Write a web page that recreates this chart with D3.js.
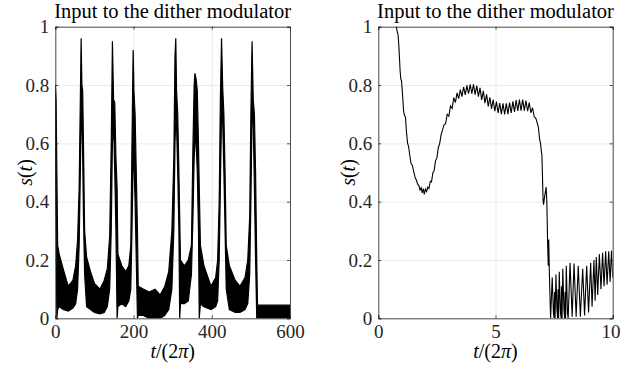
<!DOCTYPE html>
<html>
<head>
<meta charset="utf-8">
<script src="https://cdn.jsdelivr.net/npm/d3@7"></script>
<style>
body { margin: 0; background: #fff; }
svg text { font-family: "Liberation Serif", "DejaVu Serif", serif !important; }
.axis path, .axis line { stroke: #262626; stroke-width: 0.8; }
.axis text { font-size: 19px; fill: #262626; }
.grid line { stroke: #e4e4e4; stroke-width: 0.8; }
.grid path { display: none; }
</style>
</head>
<body>
<svg id="chart" width="621" height="373"></svg>
<script>
// left panel: dense signal drawn as its envelope (low / high) over t/(2pi)
var leftT  = [0, 2, 4, 6, 10, 20, 33, 45, 52, 57, 61, 64, 66, 68, 70, 72, 75, 80, 90, 100, 114, 125, 133, 139, 143, 146, 149, 152, 155, 158,
              160, 170, 180, 188, 193, 196, 199, 201, 204, 207, 210, 212, 225, 240, 255, 268, 280, 290, 298, 303, 306, 308, 310, 313, 316, 318,
              320, 330, 340, 348, 352, 355, 357, 360, 363, 366, 368, 371, 380, 398, 410, 415, 419, 422, 425, 428, 431, 434, 437, 445, 460, 472,
              485, 492, 497, 500, 503, 506, 509, 512, 515, 517, 600];
var leftLo = [0.55, 0.3, 0, 0.03, 0.04, 0.03, 0.025, 0.035, 0.05, 0.1, 0.25, 0.5, 0.7, 0.68, 0.55, 0.35, 0.15, 0.04, 0.03, 0.02, 0.015, 0.02, 0.04, 0.1, 0.3, 0.6, 0.67, 0.5, 0.3, 0,
              0.04, 0.05, 0.04, 0.06, 0.1, 0.3, 0.55, 0.54, 0.4, 0.2, 0, 0.01, 0.01, 0, 0, 0, 0.01, 0.03, 0.1, 0.3, 0.6, 0.68, 0.66, 0.5, 0.3, 0,
              0.05, 0.05, 0.06, 0.15, 0.35, 0.55, 0.6, 0.6, 0.5, 0.3, 0, 0.05, 0.04, 0.03, 0.04, 0.06, 0.2, 0.45, 0.7, 0.67, 0.5, 0.3, 0.1, 0.03, 0.02, 0.02,
              0.03, 0.05, 0.15, 0.4, 0.7, 0.67, 0.45, 0.2, 0, 0, 0];
var leftHi = [0.8, 0.75, 0.5, 0.25, 0.22, 0.17, 0.11, 0.13, 0.18, 0.27, 0.45, 0.75, 0.96, 0.8, 0.78, 0.6, 0.3, 0.21, 0.16, 0.12, 0.1, 0.13, 0.17, 0.28, 0.6, 0.95, 0.75, 0.74, 0.55, 0.45,
              0.22, 0.18, 0.16, 0.18, 0.25, 0.6, 0.92, 0.78, 0.7, 0.5, 0.3, 0.11, 0.1, 0.09, 0.1, 0.08, 0.11, 0.16, 0.3, 0.55, 0.9, 0.96, 0.78, 0.7, 0.5, 0.35,
              0.2, 0.18, 0.2, 0.25, 0.6, 0.8, 0.84, 0.82, 0.78, 0.6, 0.45, 0.25, 0.18, 0.11, 0.14, 0.2, 0.4, 0.75, 0.96, 0.79, 0.7, 0.5, 0.25, 0.18, 0.13, 0.11,
              0.14, 0.2, 0.35, 0.7, 0.95, 0.75, 0.7, 0.5, 0.2, 0.045, 0.045];

// right panel: zoom on the first 10 periods
var rightT = [0.72, 0.80, 0.84, 0.88, 0.93, 0.96, 0.99, 1.04, 1.08, 1.12, 1.16, 1.20, 1.25, 1.29, 1.34, 1.40, 1.45, 1.52, 1.58, 1.62,
              1.68, 1.73, 1.78, 1.83, 1.87, 1.92, 1.96, 2.01, 2.06, 2.11, 2.16, 2.22, 2.27, 2.33, 2.38, 2.44, 2.50, 2.56, 2.62, 2.68, 2.74,
              2.80, 2.87, 2.94, 3.01, 3.08, 3.15, 3.22, 3.29, 3.36, 3.43, 3.50, 3.57, 3.64, 3.71, 3.78, 3.85, 3.92, 3.99, 4.06, 4.13,
              4.20, 4.27, 4.34, 4.41, 4.48, 4.55, 4.62, 4.69, 4.76, 4.83, 4.90, 4.97, 5.04, 5.11, 5.18, 5.25, 5.32, 5.39, 5.46, 5.53,
              5.60, 5.67, 5.74, 5.81, 5.88, 5.95, 6.02, 6.09, 6.16, 6.23, 6.30, 6.37, 6.44, 6.51, 6.58, 6.65, 6.72, 6.78, 6.83, 6.88,
              6.92, 6.96, 6.98, 7.00, 7.03, 7.05, 7.10, 7.16, 7.19, 7.22, 7.25, 7.27, 7.30, 7.35, 7.42, 7.47, 7.50, 7.52, 7.54, 7.58,
              7.62, 7.65, 7.67, 7.69, 7.72, 7.77, 7.80, 7.82, 7.84, 7.87, 7.92, 7.95, 7.97, 7.99, 8.02, 8.07, 8.10, 8.18, 8.27, 8.35,
              8.44, 8.53, 8.62, 8.72, 8.80, 8.89, 8.97, 9.06, 9.12, 9.20, 9.25, 9.30, 9.36, 9.43, 9.50, 9.57, 9.63, 9.70, 9.76, 9.83,
              9.89, 9.95, 10.0];
var rightS = [1.03, 0.985, 0.975, 0.93, 0.85, 0.82, 0.815, 0.76, 0.71, 0.695, 0.69, 0.64, 0.60, 0.59, 0.56, 0.53, 0.525, 0.50, 0.48, 0.475,
              0.46, 0.455, 0.44, 0.448, 0.43, 0.445, 0.425, 0.443, 0.435, 0.45, 0.445, 0.47, 0.468, 0.50, 0.505, 0.54, 0.55, 0.585, 0.60, 0.63, 0.645,
              0.663, 0.667, 0.700, 0.693, 0.728, 0.720, 0.757, 0.740, 0.773, 0.753, 0.784, 0.760, 0.793, 0.766, 0.799, 0.770, 0.802, 0.770, 0.802, 0.767,
              0.798, 0.760, 0.790, 0.749, 0.780, 0.738, 0.768, 0.727, 0.758, 0.718, 0.750, 0.710, 0.743, 0.704, 0.738, 0.700, 0.737, 0.699, 0.737, 0.700,
              0.740, 0.704, 0.744, 0.708, 0.748, 0.711, 0.750, 0.712, 0.750, 0.712, 0.747, 0.710, 0.740, 0.705, 0.722, 0.692, 0.686, 0.67, 0.655, 0.615,
              0.60, 0.57, 0.56, 0.50, 0.405, 0.39, 0.42, 0.45, 0.40, 0.27, 0.18, 0.27, 0.15, 0.0, 0.14, 0.02, 0.0, 0.09, 0.0, 0.15,
              0.03, 0.0, 0.10, 0.0, 0.16, 0.02, 0.0, 0.11, 0.0, 0.17, 0.03, 0.0, 0.09, 0.0, 0.18, 0.02, 0.0, 0.19, 0.005, 0.188,
              0.005, 0.18, 0.005, 0.17, 0.01, 0.18, 0.02, 0.19, 0.04, 0.20, 0.06, 0.21, 0.08, 0.22, 0.10, 0.225, 0.11, 0.23, 0.115, 0.23,
              0.125, 0.232, 0.14];

var leftTicks = [0, 200, 400, 600];
var rightTicks = [0, 5, 10];
var yTicks = [0, 0.2, 0.4, 0.6, 0.8, 1];
var titleText = "Input to the dither modulator";

var svg = d3.select("#chart");
var height = 318.3 - 26.7;

function panel(left, right, xMax, xTicks, drawData) {
    var width = right - left;
    var g = svg.append("g").attr("transform", "translate(" + left + "," + 26.7 + ")");

    var x = d3.scaleLinear().domain([0, xMax]).range([0, width]);
    var y = d3.scaleLinear().domain([0, 1]).range([height, 0]);

    // grid
    g.append("g").attr("class", "grid")
        .attr("transform", "translate(0," + height + ")")
        .call(d3.axisBottom(x).tickValues(xTicks).tickSize(-height).tickFormat(""));
    g.append("g").attr("class", "grid")
        .call(d3.axisLeft(y).tickValues(yTicks).tickSize(-width).tickFormat(""));

    var clipId = "clip" + Math.round(left);
    g.append("clipPath").attr("id", clipId)
        .append("rect").attr("width", width).attr("height", height);

    drawData(g.append("g").attr("clip-path", "url(#" + clipId + ")"), x, y);

    // box with inward ticks
    var xAxis = g.append("g").attr("class", "axis")
        .attr("transform", "translate(0," + height + ")")
        .call(d3.axisBottom(x).tickValues(xTicks).tickSize(-3).tickPadding(6).tickFormat(d3.format("d")));
    // keep the last label inside the page
    var lastLabel = xAxis.selectAll(".tick text").filter(function (d) { return d === xMax; });
    var over = left + x(xMax) + lastLabel.node().getComputedTextLength() / 2 - 620;
    if (over > 0) lastLabel.attr("dx", -over);

    g.append("g").attr("class", "axis")
        .call(d3.axisTop(x).tickValues(xTicks).tickSize(-3).tickFormat(""));
    g.append("g").attr("class", "axis")
        .call(d3.axisLeft(y).tickValues(yTicks).tickSize(-3).tickPadding(6).tickFormat(function (d) { return d3.format("")(d); }));
    g.append("g").attr("class", "axis")
        .attr("transform", "translate(" + width + ",0)")
        .call(d3.axisRight(y).tickValues(yTicks).tickSize(-3).tickFormat(""));

    g.selectAll(".axis .domain").attr("stroke-width", 0.9);

    // title
    g.append("text")
        .attr("x", width / 2).attr("y", -8.5)
        .attr("text-anchor", "middle")
        .style("font-size", "20.5px").attr("fill", "#000")
        .text(titleText);

    // x label  t/(2π)
    var xl = g.append("text")
        .attr("x", width / 2).attr("y", height + 40)
        .attr("text-anchor", "middle")
        .style("font-size", "20px").attr("fill", "#000");
    xl.append("tspan").style("font-style", "italic").text("t");
    xl.append("tspan").text("/(2");
    xl.append("tspan").style("font-style", "italic").text("π");
    xl.append("tspan").text(")");

    // y label  s(t)
    var yl = g.append("text")
        .attr("transform", "translate(-23," + (height / 2) + ") rotate(-90)")
        .attr("text-anchor", "middle")
        .style("font-size", "20px").attr("fill", "#000");
    yl.append("tspan").style("font-style", "italic").text("s");
    yl.append("tspan").text("(");
    yl.append("tspan").style("font-style", "italic").text("t");
    yl.append("tspan").text(")");
}

panel(55.3, 290, 600, leftTicks, function (g, x, y) {
    var pts = leftT.map(function (t, i) { return [t, leftLo[i], leftHi[i]]; });
    g.append("path")
        .datum(pts)
        .attr("fill", "#000")
        .attr("stroke", "#000")
        .attr("stroke-width", 1.2)
        .attr("d", d3.area()
            .x(function (d) { return x(d[0]); })
            .y0(function (d) { return y(d[1]); })
            .y1(function (d) { return y(d[2]); }));
});

panel(378.3, 612.7, 10, rightTicks, function (g, x, y) {
    var pts = rightT.map(function (t, i) { return [t, rightS[i]]; });
    g.append("path")
        .datum(pts)
        .attr("fill", "none")
        .attr("stroke", "#000")
        .attr("stroke-width", 1.1)
        .attr("d", d3.line()
            .x(function (d) { return x(d[0]); })
            .y(function (d) { return y(d[1]); }));
});
</script>
</body>
</html>
